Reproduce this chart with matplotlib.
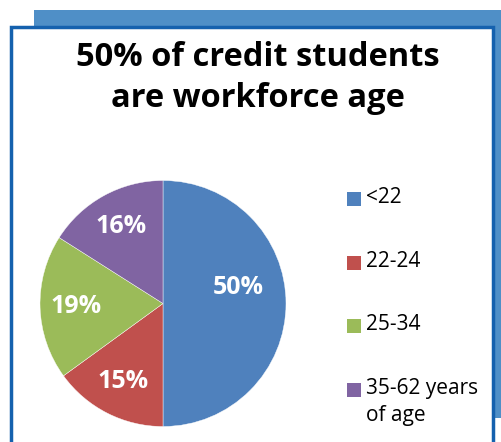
import matplotlib.pyplot as plt
from matplotlib.patches import Rectangle

labels = ['<22', '22-24', '25-34', '35-62 years\nof age']
shares = [50, 15, 19, 16]
colors = ['#4F81BD', '#C0504D', '#9BBB59', '#8064A2']
title = '50% of credit students\nare workforce age'

W, H = 501, 442
fig = plt.figure(figsize=(W / 100, H / 100), dpi=100)
fig.patch.set_facecolor('white')

def px(x, y, w, h):
    # pixel box (top-left origin) -> figure fraction
    return (x / W, 1 - (y + h) / H, w / W, h / H)

# shadow panel and bordered white box
x0, y0, w0, h0 = px(34, 10, 467, 408)
fig.patches.append(Rectangle((x0, y0), w0, h0, transform=fig.transFigure,
                             facecolor='#4F8FC7', edgecolor='none', zorder=0))
x1, y1, w1, h1 = px(11, 27, 482, 430)
fig.patches.append(Rectangle((x1, y1), w1, h1, transform=fig.transFigure,
                             facecolor='white', edgecolor='#1561AE',
                             linewidth=2.5, zorder=1))

fig.text(258 / W, 1 - 78 / H, title, ha='center', va='center',
         fontsize=23.5, fontweight='bold', family='Open Sans',
         linespacing=1.33, zorder=3)

# pie
r = 123
ax = fig.add_axes(px(163 - r, 303.5 - r, 2 * r, 2 * r))
ax.set_zorder(2)
wedges, texts, autotexts = ax.pie(
    shares, colors=colors, startangle=90, counterclock=False,
    autopct='%d%%', pctdistance=0.71, radius=1,
    wedgeprops=dict(edgecolor='white', linewidth=0.3),
    textprops=dict(color='white', fontsize=18, fontweight='bold',
                   family='Open Sans'))
autotexts[0].set_position((0.61, 0.13))
ax.set_xlim(-1, 1)
ax.set_ylim(-1, 1)
ax.set_aspect('equal')
ax.axis('off')

# legend
legend_y = [199, 263, 326, 390]
for lab, col, yy in zip(labels, colors, legend_y):
    fig.patches.append(Rectangle(((347) / W, 1 - (yy + 7) / H), 14 / W, 14 / H,
                                 transform=fig.transFigure, facecolor=col,
                                 edgecolor='none', zorder=3))
    fig.text(366 / W, 1 - (yy - 12) / H, lab, ha='left', va='top',
             fontsize=15, family='Open Sans', linespacing=1.35, zorder=3)

fig.savefig('out.png', dpi=100, facecolor='white')
